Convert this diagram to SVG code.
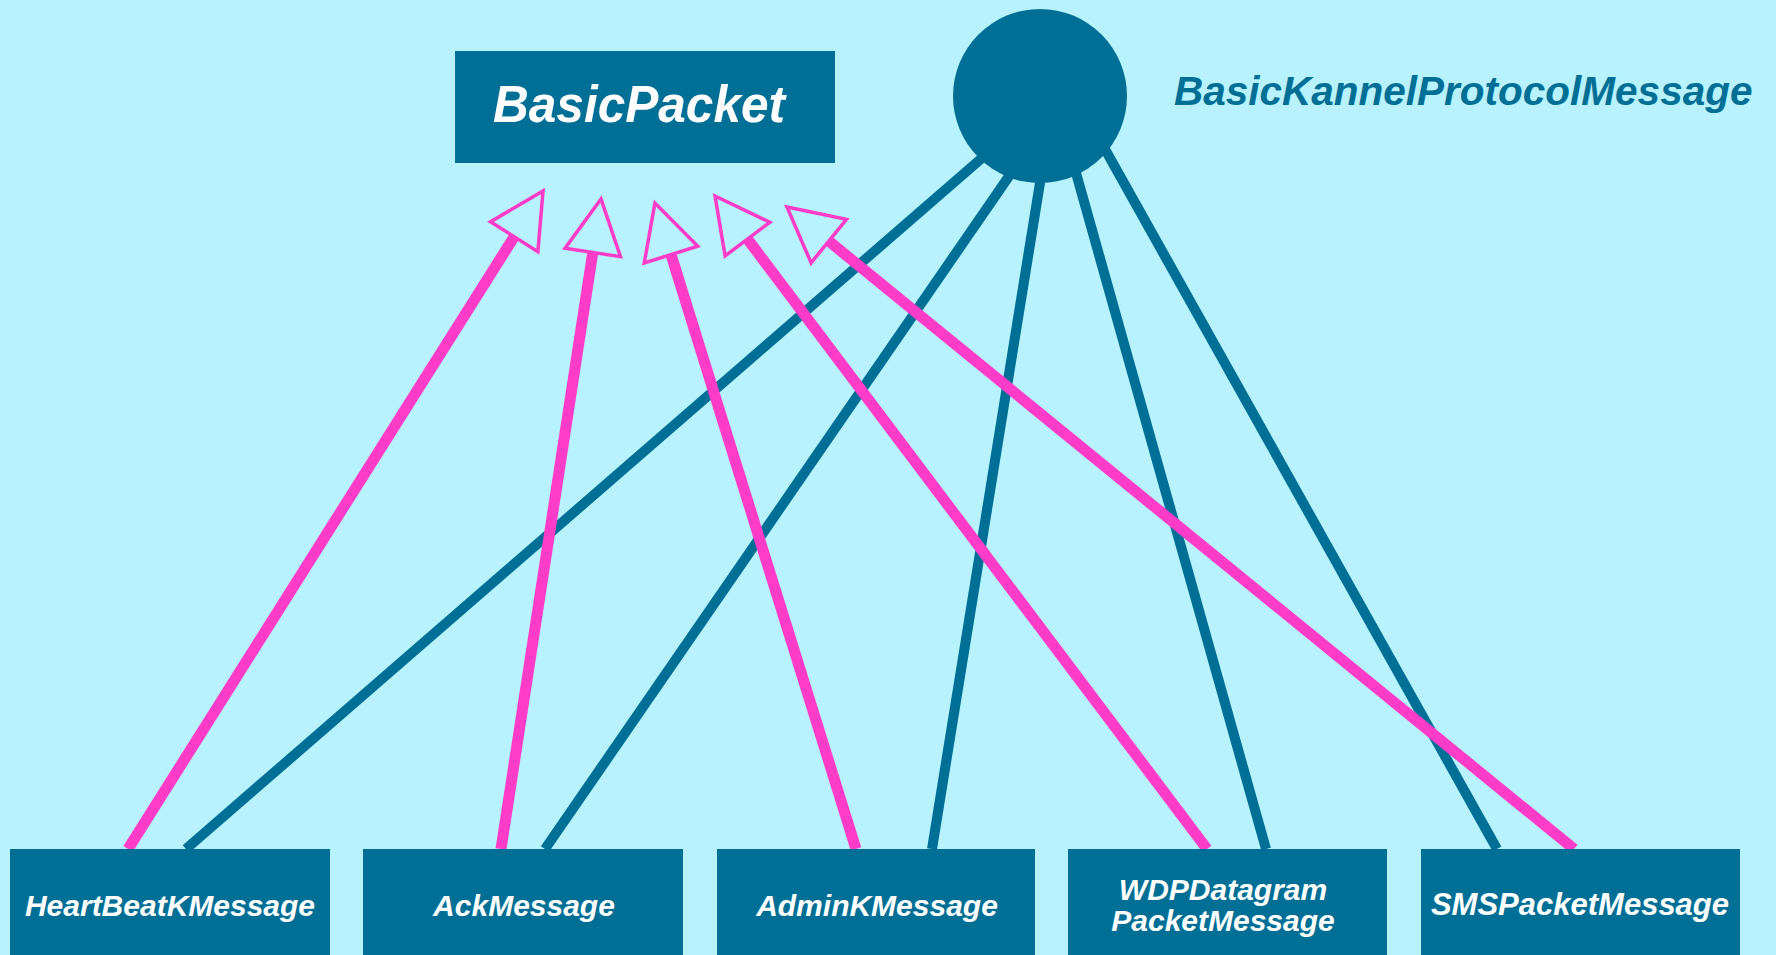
<svg xmlns="http://www.w3.org/2000/svg" width="1776" height="955" viewBox="0 0 1776 955">
<style>
.box{fill:#006f95}
.lbl{font-family:"Liberation Sans",Arial,sans-serif;font-weight:bold;font-style:italic;fill:#ffffff;text-anchor:middle}
.teal{stroke:#006f95;stroke-width:10;fill:none}
.pink{stroke:#ff3cc8;stroke-width:11;fill:none;marker-end:url(#tri)}
</style>
<defs>
<marker id="tri" markerUnits="userSpaceOnUse" markerWidth="80" markerHeight="80" refX="0" refY="0" orient="auto" overflow="visible" viewBox="-10 -40 80 80">
<path d="M0,-28 L54,0 L0,28 Z" fill="#b8f2fd" stroke="#ff3cc8" stroke-width="3.5"/>
</marker>
</defs>
<rect x="0" y="0" width="1776" height="955" fill="#b8f2fd"/>
<g id="connectors">
<g id="teal-links">
<line class="teal" x1="186" y1="849" x2="1005" y2="138"/>
<line class="teal" x1="545" y1="849" x2="1025" y2="153"/>
<line class="teal" x1="932" y1="849" x2="1045" y2="152"/>
<line class="teal" x1="1266" y1="849" x2="1069" y2="148"/>
<line class="teal" x1="1497" y1="849" x2="1092" y2="126"/>
</g>
<g id="inheritance">
<line class="pink" x1="128" y1="849" x2="514.2" y2="236.7"/>
<line class="pink" x1="501" y1="849" x2="592.8" y2="252.4"/>
<line class="pink" x1="856" y1="849" x2="671" y2="254.6"/>
<line class="pink" x1="1207" y1="849" x2="747.5" y2="239.1"/>
<line class="pink" x1="1574" y1="849" x2="828.8" y2="241.1"/>
</g>
</g>
<g id="BasicPacket">
<rect class="box" x="455" y="51" width="380" height="112"/>
<text class="lbl" x="639" y="122" font-size="52" textLength="292" lengthAdjust="spacingAndGlyphs">BasicPacket</text>
</g>
<g id="BasicKannelProtocolMessage">
<circle cx="1040" cy="96" r="87" fill="#006f95"/>
<text x="1174" y="105" font-family="Liberation Sans, Arial, sans-serif" font-weight="bold" font-style="italic" font-size="40.5" fill="#006f95">BasicKannelProtocolMessage</text>
</g>
<g id="HeartBeatKMessage">
<rect class="box" x="10" y="849" width="320" height="120"/>
<text class="lbl" x="170" y="916" font-size="30">HeartBeatKMessage</text>
</g>
<g id="AckMessage">
<rect class="box" x="363" y="849" width="320" height="120"/>
<text class="lbl" x="524" y="916" font-size="30">AckMessage</text>
</g>
<g id="AdminKMessage">
<rect class="box" x="717" y="849" width="318" height="120"/>
<text class="lbl" x="877" y="916" font-size="30">AdminKMessage</text>
</g>
<g id="WDPDatagramPacketMessage">
<rect class="box" x="1068" y="849" width="319" height="120"/>
<text class="lbl" x="1223" y="900" font-size="30">WDPDatagram</text>
<text class="lbl" x="1223" y="931" font-size="30">PacketMessage</text>
</g>
<g id="SMSPacketMessage">
<rect class="box" x="1421" y="849" width="319" height="120"/>
<text class="lbl" x="1580" y="915" font-size="31">SMSPacketMessage</text>
</g>
</svg>
